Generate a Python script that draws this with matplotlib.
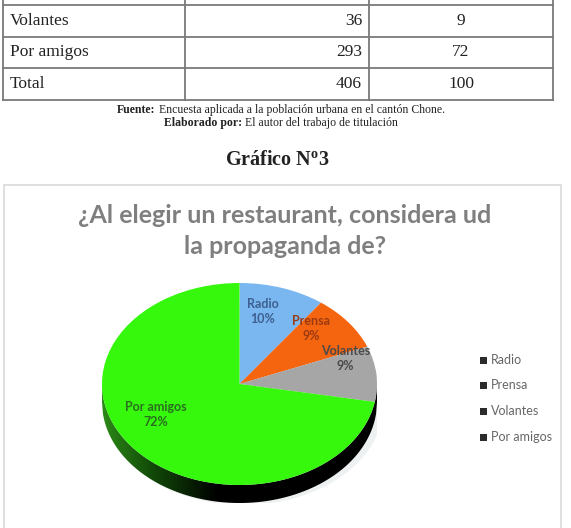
import numpy as np
import matplotlib
matplotlib.use("Agg")
import matplotlib.pyplot as plt
from matplotlib.lines import Line2D
from matplotlib.patches import Rectangle, Polygon, Ellipse
from matplotlib.colors import LinearSegmentedColormap

plt.rcParams["mathtext.fontset"] = "custom"
plt.rcParams["mathtext.bf"] = "Liberation Serif:bold"
plt.rcParams["mathtext.rm"] = "Liberation Serif"
plt.rcParams["mathtext.it"] = "Liberation Serif:italic"

# ---- data ----
categories = ["Radio", "Prensa", "Volantes", "Por amigos"]
frecuencia = [41, 36, 36, 293]
porcentaje = [10, 9, 9, 72]
table_rows = ["Volantes", "Por amigos", "Total"]
table_freq = [36, 293, 406]
table_pct = [9, 72, 100]
chart_title = "¿Al elegir un restaurant, considera ud\nla propaganda de?"
slice_colors = ["#7ab6f0", "#f5650f", "#a6a6a6", "#35f80d"]
label_colors = ["#3d5f8f", "#9b3a12", "#4a4a4a", "#2a6e1e"]
notes = [("Fuente:", " Encuesta aplicada a la población urbana en el cantón Chone."),
         ("Elaborado por:", " El autor del trabajo de titulación")]

W, H = 571, 528
fig = plt.figure(figsize=(W / 100, H / 100), dpi=100)
fig.patch.set_facecolor("white")
renderer = fig.canvas.get_renderer()

def fx(x):
    return x / W

def fy(y):
    return 1 - y / H

def hline(x0, x1, y, **kw):
    fig.add_artist(Line2D([fx(x0), fx(x1)], [fy(y), fy(y)], transform=fig.transFigure, **kw))

def vline(x, y0, y1, **kw):
    fig.add_artist(Line2D([fx(x), fx(x)], [fy(y0), fy(y1)], transform=fig.transFigure, **kw))

# ---- table ----
lc = dict(color="#7a7a7a", lw=1.3)
for y in [5, 37, 68, 100]:
    hline(3, 553, y, **lc)
for x in [3, 185, 369, 553]:
    vline(x, 0, 100, **lc)
row_y = [21, 52, 84]
serif = "Liberation Serif"
for i, name in enumerate(table_rows):
    fig.text(fx(10), fy(row_y[i]), name, family=serif, fontsize=12.5, va="center", ha="left", color="#222222")
    fig.text(fx(362), fy(row_y[i]), str(table_freq[i]), family=serif, fontsize=12.5, va="center", ha="right", color="#222222")
    fig.text(fx(461), fy(row_y[i]), str(table_pct[i]), family=serif, fontsize=12.5, va="center", ha="center", color="#222222")

# source notes (bold label + regular text, centred together)
for (bold, rest), yy in zip(notes, [113, 126]):
    tb = fig.text(0, fy(yy), bold, family=serif, fontsize=8.5, fontweight="bold", ha="left",
                  va="baseline", color="#222222")
    tr = fig.text(0, fy(yy), rest.replace(" ", "\u00a0", 1), family=serif, fontsize=8.5, ha="left",
                  va="baseline", color="#222222")
    wb = tb.get_window_extent(renderer).width
    wr = tr.get_window_extent(renderer).width
    x0 = 281 - (wb + wr) / 2
    tb.set_x(fx(x0))
    tr.set_x(fx(x0 + wb))

fig.text(fx(277), fy(160), r"Gráfico N$^{\mathbf{o}}$3", family=serif, fontsize=14.5,
         fontweight="bold", ha="center", va="center", color="#222222")

# ---- chart frame ----
fig.add_artist(Rectangle((fx(4), fy(540)), fx(561) - fx(4), fy(185) - fy(540),
                         transform=fig.transFigure, fill=False, edgecolor="#d9d9d9", lw=1.2))

fig.text(fx(285), fy(231), chart_title, family="Lato", fontweight="bold", fontsize=18,
         color="#7f7f7f", ha="center", va="center", linespacing=1.4)

# ---- pie ----
cx0, cx1 = 102, 377
top, ell_bot, depth = 283, 485, 18
ax = fig.add_axes([fx(cx0), fy(ell_bot + depth), fx(cx1) - fx(cx0), fy(top) - fy(ell_bot + depth)])
dunits = depth / ((ell_bot - top) / 2)

# shadow
ax.add_patch(Ellipse((0.03, -dunits - 0.02), 2.04, 2.0, facecolor="#eef1f1", edgecolor="none", zorder=0))
# side
t = np.linspace(-1, 1, 300)
lower = -np.sqrt(1 - t ** 2)
side = np.concatenate([np.column_stack([t, lower]), np.column_stack([t[::-1], lower[::-1] - dunits])])
poly = Polygon(side, closed=True, facecolor="none", edgecolor="none")
ax.add_patch(poly)
cmap = LinearSegmentedColormap.from_list("side", [(0, "#2d8a18"), (0.18, "#124a08"), (0.42, "#000000"), (1, "#000000")])
grad = np.linspace(0, 1, 256)[None, :]
im = ax.imshow(grad, extent=[-1, 1, -1 - dunits, 0], cmap=cmap, aspect="auto", zorder=1)
im.set_clip_path(poly)

wedges, _ = ax.pie(frecuencia, colors=slice_colors, startangle=90, counterclock=False,
                   wedgeprops=dict(edgecolor="none", zorder=2), radius=1, frame=True)
ax.set_xlim(-1, 1)
ax.set_ylim(-1 - dunits, 1)
ax.set_aspect("auto")
ax.axis("off")

label_pos = [(0.17, 0.72), (0.52, 0.55), (0.77, 0.25), (-0.61, -0.30)]
for i, (lx, ly) in enumerate(label_pos):
    ax.text(lx, ly, f"{categories[i]}\n{porcentaje[i]}%", family="Lato", fontweight="bold",
            fontsize=9, color=label_colors[i], ha="center", va="center", zorder=5, linespacing=1.3)

# ---- legend ----
leg_y = [360, 385, 411, 437]
for i, name in enumerate(categories):
    fig.add_artist(Rectangle((fx(480), fy(leg_y[i] + 3.5)), fx(7), fx(7) * W / H,
                             transform=fig.transFigure, facecolor="#2b2b2b", edgecolor="none"))
    fig.text(fx(491), fy(leg_y[i]), name, family="Lato", fontsize=9, color="#666666",
             ha="left", va="center")

fig.savefig("out.png", dpi=100, facecolor="white")
